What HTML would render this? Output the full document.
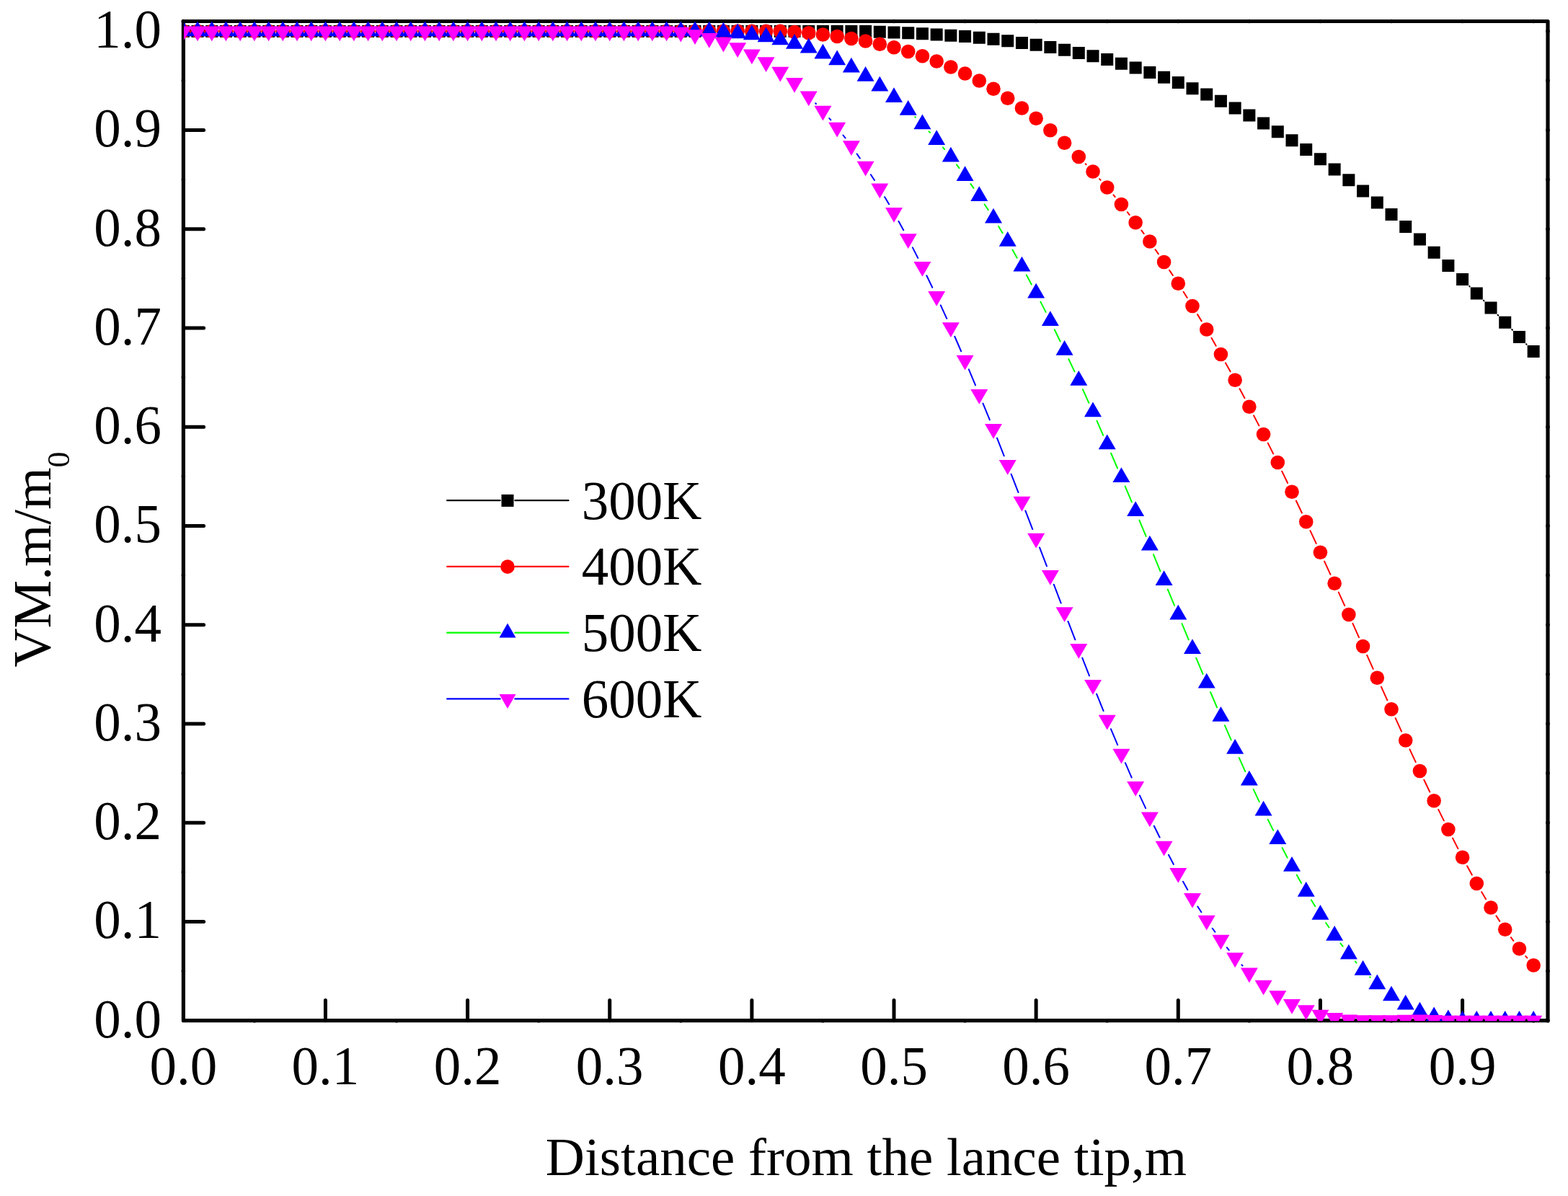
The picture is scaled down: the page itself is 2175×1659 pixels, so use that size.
<!DOCTYPE html>
<html lang="en"><head><meta charset="utf-8"><title>VM.m/m0 vs distance from the lance tip</title>
<style>html,body{margin:0;padding:0;background:#fff;overflow:hidden;width:2175px;height:1659px}svg{display:block}text{font-family:"Liberation Serif", "Times New Roman", serif;fill:#000}</style>
</head><body>
<svg width="2175" height="1659" viewBox="0 0 2175 1659">
<rect width="2175" height="1659" fill="#fff"/>
<rect x="254.40" y="29.50" width="1892.60" height="1386.20" fill="none" stroke="#000" stroke-width="5.2" stroke-linejoin="round"/>
<path d="M451.46 1415.70L451.46 1387.50M648.60 1415.70L648.60 1387.50M845.74 1415.70L845.74 1387.50M1042.88 1415.70L1042.88 1387.50M1240.02 1415.70L1240.02 1387.50M1437.16 1415.70L1437.16 1387.50M1634.30 1415.70L1634.30 1387.50M1831.44 1415.70L1831.44 1387.50M2028.58 1415.70L2028.58 1387.50M254.40 1278.47L282.60 1278.47M254.40 1141.22L282.60 1141.22M254.40 1003.97L282.60 1003.97M254.40 866.72L282.60 866.72M254.40 729.47L282.60 729.47M254.40 592.22L282.60 592.22M254.40 454.97L282.60 454.97M254.40 317.72L282.60 317.72M254.40 180.47L282.60 180.47M254.40 43.22L282.60 43.22" stroke="#000" stroke-width="5" stroke-linecap="round" fill="none"/>
<path d="M254.32 29.50h0M352.89 29.50h0M352.89 1415.70h0M451.46 29.50h0M550.03 29.50h0M550.03 1415.70h0M648.60 29.50h0M747.17 29.50h0M747.17 1415.70h0M845.74 29.50h0M944.31 29.50h0M944.31 1415.70h0M1042.88 29.50h0M1141.45 29.50h0M1141.45 1415.70h0M1240.02 29.50h0M1338.59 29.50h0M1338.59 1415.70h0M1437.16 29.50h0M1535.73 29.50h0M1535.73 1415.70h0M1634.30 29.50h0M1732.87 29.50h0M1732.87 1415.70h0M1831.44 29.50h0M1930.01 29.50h0M1930.01 1415.70h0M2028.58 29.50h0M2127.15 29.50h0M2127.15 1415.70h0M2147.00 1415.72h0M2147.00 1347.10h0M254.40 1347.10h0M2147.00 1278.47h0M2147.00 1209.85h0M254.40 1209.85h0M2147.00 1141.22h0M2147.00 1072.60h0M254.40 1072.60h0M2147.00 1003.97h0M2147.00 935.35h0M254.40 935.35h0M2147.00 866.72h0M2147.00 798.10h0M254.40 798.10h0M2147.00 729.47h0M2147.00 660.84h0M254.40 660.84h0M2147.00 592.22h0M2147.00 523.60h0M254.40 523.60h0M2147.00 454.97h0M2147.00 386.35h0M254.40 386.35h0M2147.00 317.72h0M2147.00 249.09h0M254.40 249.09h0M2147.00 180.47h0M2147.00 111.85h0M254.40 111.85h0M2147.00 43.22h0" stroke="#000" stroke-width="5.6" stroke-linecap="round" fill="none"/>
<defs><clipPath id="clip"><rect x="255" y="30" width="1892" height="1386.2"/></clipPath></defs>
<g clip-path="url(#clip)">
<g>
<path d="M2038.25 397.07L2038.62 397.43M2057.84 416.68L2058.46 417.32M2077.50 436.75L2078.23 437.50M2097.21 456.99L2097.95 457.76M2116.99 477.19L2117.60 477.81" stroke="#000" stroke-width="2.00" fill="none" stroke-linecap="round"/>
<rect x="245.82" y="34.90" width="17.00" height="17.00" fill="#000"/><rect x="265.53" y="34.90" width="17.00" height="17.00" fill="#000"/><rect x="285.25" y="34.90" width="17.00" height="17.00" fill="#000"/><rect x="304.96" y="34.90" width="17.00" height="17.00" fill="#000"/><rect x="324.68" y="34.90" width="17.00" height="17.00" fill="#000"/><rect x="344.39" y="34.90" width="17.00" height="17.00" fill="#000"/><rect x="364.10" y="34.90" width="17.00" height="17.00" fill="#000"/><rect x="383.82" y="34.90" width="17.00" height="17.00" fill="#000"/><rect x="403.53" y="34.90" width="17.00" height="17.00" fill="#000"/><rect x="423.25" y="34.90" width="17.00" height="17.00" fill="#000"/><rect x="442.96" y="34.90" width="17.00" height="17.00" fill="#000"/><rect x="462.67" y="34.90" width="17.00" height="17.00" fill="#000"/><rect x="482.39" y="34.90" width="17.00" height="17.00" fill="#000"/><rect x="502.10" y="34.90" width="17.00" height="17.00" fill="#000"/><rect x="521.82" y="34.90" width="17.00" height="17.00" fill="#000"/><rect x="541.53" y="34.90" width="17.00" height="17.00" fill="#000"/><rect x="561.24" y="34.90" width="17.00" height="17.00" fill="#000"/><rect x="580.96" y="34.90" width="17.00" height="17.00" fill="#000"/><rect x="600.67" y="34.90" width="17.00" height="17.00" fill="#000"/><rect x="620.39" y="34.90" width="17.00" height="17.00" fill="#000"/><rect x="640.10" y="34.90" width="17.00" height="17.00" fill="#000"/><rect x="659.81" y="34.90" width="17.00" height="17.00" fill="#000"/><rect x="679.53" y="34.90" width="17.00" height="17.00" fill="#000"/><rect x="699.24" y="34.90" width="17.00" height="17.00" fill="#000"/><rect x="718.96" y="34.90" width="17.00" height="17.00" fill="#000"/><rect x="738.67" y="34.90" width="17.00" height="17.00" fill="#000"/><rect x="758.38" y="34.90" width="17.00" height="17.00" fill="#000"/><rect x="778.10" y="34.90" width="17.00" height="17.00" fill="#000"/><rect x="797.81" y="34.90" width="17.00" height="17.00" fill="#000"/><rect x="817.53" y="34.90" width="17.00" height="17.00" fill="#000"/><rect x="837.24" y="34.90" width="17.00" height="17.00" fill="#000"/><rect x="856.95" y="34.90" width="17.00" height="17.00" fill="#000"/><rect x="876.67" y="34.90" width="17.00" height="17.00" fill="#000"/><rect x="896.38" y="34.90" width="17.00" height="17.00" fill="#000"/><rect x="916.10" y="34.90" width="17.00" height="17.00" fill="#000"/><rect x="935.81" y="34.90" width="17.00" height="17.00" fill="#000"/><rect x="955.52" y="34.90" width="17.00" height="17.00" fill="#000"/><rect x="975.24" y="34.90" width="17.00" height="17.00" fill="#000"/><rect x="994.95" y="34.90" width="17.00" height="17.00" fill="#000"/><rect x="1014.67" y="34.90" width="17.00" height="17.00" fill="#000"/><rect x="1034.38" y="34.90" width="17.00" height="17.00" fill="#000"/><rect x="1054.09" y="34.90" width="17.00" height="17.00" fill="#000"/><rect x="1073.81" y="34.90" width="17.00" height="17.00" fill="#000"/><rect x="1093.52" y="34.90" width="17.00" height="17.00" fill="#000"/><rect x="1113.24" y="34.90" width="17.00" height="17.00" fill="#000"/><rect x="1132.95" y="34.90" width="17.00" height="17.00" fill="#000"/><rect x="1152.66" y="34.90" width="17.00" height="17.00" fill="#000"/><rect x="1172.38" y="34.90" width="17.00" height="17.00" fill="#000"/><rect x="1192.09" y="34.90" width="17.00" height="17.00" fill="#000"/><rect x="1211.81" y="35.75" width="17.00" height="17.00" fill="#000"/><rect x="1231.52" y="36.50" width="17.00" height="17.00" fill="#000"/><rect x="1251.23" y="37.25" width="17.00" height="17.00" fill="#000"/><rect x="1270.95" y="38.25" width="17.00" height="17.00" fill="#000"/><rect x="1290.66" y="39.50" width="17.00" height="17.00" fill="#000"/><rect x="1310.38" y="40.75" width="17.00" height="17.00" fill="#000"/><rect x="1330.09" y="42.00" width="17.00" height="17.00" fill="#000"/><rect x="1349.80" y="43.75" width="17.00" height="17.00" fill="#000"/><rect x="1369.52" y="45.75" width="17.00" height="17.00" fill="#000"/><rect x="1389.23" y="48.25" width="17.00" height="17.00" fill="#000"/><rect x="1408.95" y="51.00" width="17.00" height="17.00" fill="#000"/><rect x="1428.66" y="53.75" width="17.00" height="17.00" fill="#000"/><rect x="1448.37" y="57.00" width="17.00" height="17.00" fill="#000"/><rect x="1468.09" y="60.75" width="17.00" height="17.00" fill="#000"/><rect x="1487.80" y="65.00" width="17.00" height="17.00" fill="#000"/><rect x="1507.52" y="69.25" width="17.00" height="17.00" fill="#000"/><rect x="1527.23" y="74.00" width="17.00" height="17.00" fill="#000"/><rect x="1546.94" y="79.75" width="17.00" height="17.00" fill="#000"/><rect x="1566.66" y="85.50" width="17.00" height="17.00" fill="#000"/><rect x="1586.37" y="92.00" width="17.00" height="17.00" fill="#000"/><rect x="1606.09" y="98.75" width="17.00" height="17.00" fill="#000"/><rect x="1625.80" y="106.00" width="17.00" height="17.00" fill="#000"/><rect x="1645.51" y="114.25" width="17.00" height="17.00" fill="#000"/><rect x="1665.23" y="122.50" width="17.00" height="17.00" fill="#000"/><rect x="1684.94" y="131.75" width="17.00" height="17.00" fill="#000"/><rect x="1704.66" y="141.50" width="17.00" height="17.00" fill="#000"/><rect x="1724.37" y="151.50" width="17.00" height="17.00" fill="#000"/><rect x="1744.08" y="162.50" width="17.00" height="17.00" fill="#000"/><rect x="1763.80" y="174.25" width="17.00" height="17.00" fill="#000"/><rect x="1783.51" y="186.25" width="17.00" height="17.00" fill="#000"/><rect x="1803.23" y="199.00" width="17.00" height="17.00" fill="#000"/><rect x="1822.94" y="212.25" width="17.00" height="17.00" fill="#000"/><rect x="1842.65" y="226.50" width="17.00" height="17.00" fill="#000"/><rect x="1862.37" y="241.25" width="17.00" height="17.00" fill="#000"/><rect x="1882.08" y="256.50" width="17.00" height="17.00" fill="#000"/><rect x="1901.80" y="272.50" width="17.00" height="17.00" fill="#000"/><rect x="1921.51" y="289.00" width="17.00" height="17.00" fill="#000"/><rect x="1941.22" y="306.00" width="17.00" height="17.00" fill="#000"/><rect x="1960.94" y="323.50" width="17.00" height="17.00" fill="#000"/><rect x="1980.65" y="341.75" width="17.00" height="17.00" fill="#000"/><rect x="2000.37" y="360.00" width="17.00" height="17.00" fill="#000"/><rect x="2020.08" y="379.00" width="17.00" height="17.00" fill="#000"/><rect x="2039.79" y="398.50" width="17.00" height="17.00" fill="#000"/><rect x="2059.51" y="418.50" width="17.00" height="17.00" fill="#000"/><rect x="2079.22" y="438.75" width="17.00" height="17.00" fill="#000"/><rect x="2098.94" y="459.00" width="17.00" height="17.00" fill="#000"/><rect x="2118.65" y="479.00" width="17.00" height="17.00" fill="#000"/>
</g>
<g>
<path d="M1505.73 227.30L1506.59 228.20M1525.10 248.13L1526.65 249.87M1544.47 270.42L1546.70 273.08M1563.81 294.22L1566.79 298.03M1583.33 319.63L1586.70 324.12M1602.61 346.18L1606.85 352.32M1622.10 374.84L1626.79 381.91M1641.56 404.75L1646.75 413.00M1661.06 436.13L1666.68 445.37M1680.48 468.81L1686.69 479.69M1700.01 503.41L1706.59 515.34M1719.55 539.25L1726.48 552.25M1739.10 576.34L1746.35 590.41M1758.72 614.64L1766.16 629.36M1778.22 653.74L1786.09 670.01M1797.85 694.53L1805.89 711.47M1817.45 736.09L1825.72 753.91M1837.11 778.61L1845.48 796.89M1856.79 821.62L1865.23 840.13M1876.43 864.91L1885.02 884.09M1896.17 908.90L1904.71 927.85M1915.91 952.64L1924.40 971.36M1935.65 996.13L1944.08 1014.62M1955.44 1039.34L1963.72 1057.16M1975.30 1081.77L1983.29 1098.48M1995.19 1122.93L2002.83 1138.32M2015.04 1162.62L2022.41 1177.13M2035.08 1201.20L2041.79 1213.55M2055.19 1237.22L2061.11 1247.28M2075.43 1270.39L2080.30 1277.86M2095.79 1300.20L2099.37 1305.05M2116.29 1326.33L2118.30 1328.67" stroke="#f00" stroke-width="2.00" fill="none" stroke-linecap="round"/>
<circle cx="254.32" cy="43.40" r="9.80" fill="#f00"/><circle cx="274.03" cy="43.40" r="9.80" fill="#f00"/><circle cx="293.75" cy="43.40" r="9.80" fill="#f00"/><circle cx="313.46" cy="43.40" r="9.80" fill="#f00"/><circle cx="333.18" cy="43.40" r="9.80" fill="#f00"/><circle cx="352.89" cy="43.40" r="9.80" fill="#f00"/><circle cx="372.60" cy="43.40" r="9.80" fill="#f00"/><circle cx="392.32" cy="43.40" r="9.80" fill="#f00"/><circle cx="412.03" cy="43.40" r="9.80" fill="#f00"/><circle cx="431.75" cy="43.40" r="9.80" fill="#f00"/><circle cx="451.46" cy="43.40" r="9.80" fill="#f00"/><circle cx="471.17" cy="43.40" r="9.80" fill="#f00"/><circle cx="490.89" cy="43.40" r="9.80" fill="#f00"/><circle cx="510.60" cy="43.40" r="9.80" fill="#f00"/><circle cx="530.32" cy="43.40" r="9.80" fill="#f00"/><circle cx="550.03" cy="43.40" r="9.80" fill="#f00"/><circle cx="569.74" cy="43.40" r="9.80" fill="#f00"/><circle cx="589.46" cy="43.40" r="9.80" fill="#f00"/><circle cx="609.17" cy="43.40" r="9.80" fill="#f00"/><circle cx="628.89" cy="43.40" r="9.80" fill="#f00"/><circle cx="648.60" cy="43.40" r="9.80" fill="#f00"/><circle cx="668.31" cy="43.40" r="9.80" fill="#f00"/><circle cx="688.03" cy="43.40" r="9.80" fill="#f00"/><circle cx="707.74" cy="43.40" r="9.80" fill="#f00"/><circle cx="727.46" cy="43.40" r="9.80" fill="#f00"/><circle cx="747.17" cy="43.40" r="9.80" fill="#f00"/><circle cx="766.88" cy="43.40" r="9.80" fill="#f00"/><circle cx="786.60" cy="43.40" r="9.80" fill="#f00"/><circle cx="806.31" cy="43.40" r="9.80" fill="#f00"/><circle cx="826.03" cy="43.40" r="9.80" fill="#f00"/><circle cx="845.74" cy="43.40" r="9.80" fill="#f00"/><circle cx="865.45" cy="43.40" r="9.80" fill="#f00"/><circle cx="885.17" cy="43.40" r="9.80" fill="#f00"/><circle cx="904.88" cy="43.40" r="9.80" fill="#f00"/><circle cx="924.60" cy="43.40" r="9.80" fill="#f00"/><circle cx="944.31" cy="43.40" r="9.80" fill="#f00"/><circle cx="964.02" cy="43.40" r="9.80" fill="#f00"/><circle cx="983.74" cy="43.40" r="9.80" fill="#f00"/><circle cx="1003.45" cy="43.40" r="9.80" fill="#f00"/><circle cx="1023.17" cy="43.40" r="9.80" fill="#f00"/><circle cx="1042.88" cy="43.40" r="9.80" fill="#f00"/><circle cx="1062.59" cy="43.40" r="9.80" fill="#f00"/><circle cx="1082.31" cy="43.40" r="9.80" fill="#f00"/><circle cx="1102.02" cy="44.50" r="9.80" fill="#f00"/><circle cx="1121.74" cy="45.75" r="9.80" fill="#f00"/><circle cx="1141.45" cy="48.00" r="9.80" fill="#f00"/><circle cx="1161.16" cy="50.50" r="9.80" fill="#f00"/><circle cx="1180.88" cy="53.50" r="9.80" fill="#f00"/><circle cx="1200.59" cy="57.00" r="9.80" fill="#f00"/><circle cx="1220.31" cy="61.25" r="9.80" fill="#f00"/><circle cx="1240.02" cy="65.75" r="9.80" fill="#f00"/><circle cx="1259.73" cy="71.50" r="9.80" fill="#f00"/><circle cx="1279.45" cy="77.75" r="9.80" fill="#f00"/><circle cx="1299.16" cy="85.00" r="9.80" fill="#f00"/><circle cx="1318.88" cy="93.00" r="9.80" fill="#f00"/><circle cx="1338.59" cy="102.00" r="9.80" fill="#f00"/><circle cx="1358.30" cy="112.00" r="9.80" fill="#f00"/><circle cx="1378.02" cy="123.25" r="9.80" fill="#f00"/><circle cx="1397.73" cy="136.25" r="9.80" fill="#f00"/><circle cx="1417.45" cy="150.00" r="9.80" fill="#f00"/><circle cx="1437.16" cy="164.25" r="9.80" fill="#f00"/><circle cx="1456.87" cy="180.75" r="9.80" fill="#f00"/><circle cx="1476.59" cy="198.25" r="9.80" fill="#f00"/><circle cx="1496.30" cy="217.50" r="9.80" fill="#f00"/><circle cx="1516.02" cy="238.00" r="9.80" fill="#f00"/><circle cx="1535.73" cy="260.00" r="9.80" fill="#f00"/><circle cx="1555.44" cy="283.50" r="9.80" fill="#f00"/><circle cx="1575.16" cy="308.75" r="9.80" fill="#f00"/><circle cx="1594.87" cy="335.00" r="9.80" fill="#f00"/><circle cx="1614.59" cy="363.50" r="9.80" fill="#f00"/><circle cx="1634.30" cy="393.25" r="9.80" fill="#f00"/><circle cx="1654.01" cy="424.50" r="9.80" fill="#f00"/><circle cx="1673.73" cy="457.00" r="9.80" fill="#f00"/><circle cx="1693.44" cy="491.50" r="9.80" fill="#f00"/><circle cx="1713.16" cy="527.25" r="9.80" fill="#f00"/><circle cx="1732.87" cy="564.25" r="9.80" fill="#f00"/><circle cx="1752.58" cy="602.50" r="9.80" fill="#f00"/><circle cx="1772.30" cy="641.50" r="9.80" fill="#f00"/><circle cx="1792.01" cy="682.25" r="9.80" fill="#f00"/><circle cx="1811.73" cy="723.75" r="9.80" fill="#f00"/><circle cx="1831.44" cy="766.25" r="9.80" fill="#f00"/><circle cx="1851.15" cy="809.25" r="9.80" fill="#f00"/><circle cx="1870.87" cy="852.50" r="9.80" fill="#f00"/><circle cx="1890.58" cy="896.50" r="9.80" fill="#f00"/><circle cx="1910.30" cy="940.25" r="9.80" fill="#f00"/><circle cx="1930.01" cy="983.75" r="9.80" fill="#f00"/><circle cx="1949.72" cy="1027.00" r="9.80" fill="#f00"/><circle cx="1969.44" cy="1069.50" r="9.80" fill="#f00"/><circle cx="1989.15" cy="1110.75" r="9.80" fill="#f00"/><circle cx="2008.87" cy="1150.50" r="9.80" fill="#f00"/><circle cx="2028.58" cy="1189.25" r="9.80" fill="#f00"/><circle cx="2048.29" cy="1225.50" r="9.80" fill="#f00"/><circle cx="2068.01" cy="1259.00" r="9.80" fill="#f00"/><circle cx="2087.72" cy="1289.25" r="9.80" fill="#f00"/><circle cx="2107.44" cy="1316.00" r="9.80" fill="#f00"/><circle cx="2127.15" cy="1339.00" r="9.80" fill="#f00"/>
</g>
<g>
<path d="M1269.40 162.31L1269.78 162.69M1288.58 182.33L1290.03 183.92M1307.90 204.42L1310.14 207.08M1327.00 228.41L1330.47 233.09M1346.42 255.12L1350.47 260.88M1365.68 283.42L1370.64 291.08M1385.11 314.10L1390.64 323.15M1404.44 346.58L1410.74 357.67M1423.84 381.50L1430.77 394.50M1443.36 418.61L1450.67 432.89M1462.79 457.24L1470.67 473.51M1482.37 498.06L1490.52 515.44M1501.92 540.14L1510.40 558.86M1521.48 583.71L1530.27 603.79M1541.11 628.74L1550.06 649.51M1560.70 674.54L1569.90 696.46M1580.37 721.56L1589.66 743.94M1599.99 769.10L1609.47 792.40M1619.80 817.56L1629.09 839.94M1639.51 865.06L1648.80 887.44M1659.22 912.56L1668.52 934.94M1679.06 960.01L1688.11 981.24M1698.90 1006.21L1707.70 1026.29M1718.75 1051.15L1727.28 1070.10M1738.65 1094.81L1746.80 1112.19M1758.65 1136.67L1766.23 1151.83M1778.59 1176.06L1785.72 1189.69M1798.69 1213.60L1805.05 1224.90M1818.86 1248.33L1824.31 1257.17M1839.08 1280.00L1843.51 1286.50M1859.42 1308.55L1862.60 1312.70M1879.89 1333.68L1881.56 1335.57M1900.25 1355.31L1900.63 1355.69" stroke="#0f0" stroke-width="2.00" fill="none" stroke-linecap="round"/>
<path d="M254.32 29.53L266.32 50.33L242.32 50.33Z" fill="#00f"/><path d="M274.03 29.53L286.03 50.33L262.03 50.33Z" fill="#00f"/><path d="M293.75 29.53L305.75 50.33L281.75 50.33Z" fill="#00f"/><path d="M313.46 29.53L325.46 50.33L301.46 50.33Z" fill="#00f"/><path d="M333.18 29.53L345.18 50.33L321.18 50.33Z" fill="#00f"/><path d="M352.89 29.53L364.89 50.33L340.89 50.33Z" fill="#00f"/><path d="M372.60 29.53L384.60 50.33L360.60 50.33Z" fill="#00f"/><path d="M392.32 29.53L404.32 50.33L380.32 50.33Z" fill="#00f"/><path d="M412.03 29.53L424.03 50.33L400.03 50.33Z" fill="#00f"/><path d="M431.75 29.53L443.75 50.33L419.75 50.33Z" fill="#00f"/><path d="M451.46 29.53L463.46 50.33L439.46 50.33Z" fill="#00f"/><path d="M471.17 29.53L483.17 50.33L459.17 50.33Z" fill="#00f"/><path d="M490.89 29.53L502.89 50.33L478.89 50.33Z" fill="#00f"/><path d="M510.60 29.53L522.60 50.33L498.60 50.33Z" fill="#00f"/><path d="M530.32 29.53L542.32 50.33L518.32 50.33Z" fill="#00f"/><path d="M550.03 29.53L562.03 50.33L538.03 50.33Z" fill="#00f"/><path d="M569.74 29.53L581.74 50.33L557.74 50.33Z" fill="#00f"/><path d="M589.46 29.53L601.46 50.33L577.46 50.33Z" fill="#00f"/><path d="M609.17 29.53L621.17 50.33L597.17 50.33Z" fill="#00f"/><path d="M628.89 29.53L640.89 50.33L616.89 50.33Z" fill="#00f"/><path d="M648.60 29.53L660.60 50.33L636.60 50.33Z" fill="#00f"/><path d="M668.31 29.53L680.31 50.33L656.31 50.33Z" fill="#00f"/><path d="M688.03 29.53L700.03 50.33L676.03 50.33Z" fill="#00f"/><path d="M707.74 29.53L719.74 50.33L695.74 50.33Z" fill="#00f"/><path d="M727.46 29.53L739.46 50.33L715.46 50.33Z" fill="#00f"/><path d="M747.17 29.53L759.17 50.33L735.17 50.33Z" fill="#00f"/><path d="M766.88 29.53L778.88 50.33L754.88 50.33Z" fill="#00f"/><path d="M786.60 29.53L798.60 50.33L774.60 50.33Z" fill="#00f"/><path d="M806.31 29.53L818.31 50.33L794.31 50.33Z" fill="#00f"/><path d="M826.03 29.53L838.03 50.33L814.03 50.33Z" fill="#00f"/><path d="M845.74 29.53L857.74 50.33L833.74 50.33Z" fill="#00f"/><path d="M865.45 29.53L877.45 50.33L853.45 50.33Z" fill="#00f"/><path d="M885.17 29.53L897.17 50.33L873.17 50.33Z" fill="#00f"/><path d="M904.88 29.53L916.88 50.33L892.88 50.33Z" fill="#00f"/><path d="M924.60 29.53L936.60 50.33L912.60 50.33Z" fill="#00f"/><path d="M944.31 29.53L956.31 50.33L932.31 50.33Z" fill="#00f"/><path d="M964.02 29.53L976.02 50.33L952.02 50.33Z" fill="#00f"/><path d="M983.74 29.73L995.74 50.53L971.74 50.53Z" fill="#00f"/><path d="M1003.45 30.63L1015.45 51.43L991.45 51.43Z" fill="#00f"/><path d="M1023.17 32.43L1035.17 53.23L1011.17 53.23Z" fill="#00f"/><path d="M1042.88 34.38L1054.88 55.18L1030.88 55.18Z" fill="#00f"/><path d="M1062.59 37.38L1074.59 58.18L1050.59 58.18Z" fill="#00f"/><path d="M1082.31 41.38L1094.31 62.18L1070.31 62.18Z" fill="#00f"/><path d="M1102.02 46.88L1114.02 67.68L1090.02 67.68Z" fill="#00f"/><path d="M1121.74 52.63L1133.74 73.43L1109.74 73.43Z" fill="#00f"/><path d="M1141.45 60.63L1153.45 81.43L1129.45 81.43Z" fill="#00f"/><path d="M1161.16 69.38L1173.16 90.18L1149.16 90.18Z" fill="#00f"/><path d="M1180.88 79.63L1192.88 100.43L1168.88 100.43Z" fill="#00f"/><path d="M1200.59 91.88L1212.59 112.68L1188.59 112.68Z" fill="#00f"/><path d="M1220.31 105.63L1232.31 126.43L1208.31 126.43Z" fill="#00f"/><path d="M1240.02 121.13L1252.02 141.93L1228.02 141.93Z" fill="#00f"/><path d="M1259.73 138.88L1271.73 159.68L1247.73 159.68Z" fill="#00f"/><path d="M1279.45 158.38L1291.45 179.18L1267.45 179.18Z" fill="#00f"/><path d="M1299.16 180.13L1311.16 200.93L1287.16 200.93Z" fill="#00f"/><path d="M1318.88 203.63L1330.88 224.43L1306.88 224.43Z" fill="#00f"/><path d="M1338.59 230.13L1350.59 250.93L1326.59 250.93Z" fill="#00f"/><path d="M1358.30 258.13L1370.30 278.93L1346.30 278.93Z" fill="#00f"/><path d="M1378.02 288.63L1390.02 309.43L1366.02 309.43Z" fill="#00f"/><path d="M1397.73 320.88L1409.73 341.68L1385.73 341.68Z" fill="#00f"/><path d="M1417.45 355.63L1429.45 376.43L1405.45 376.43Z" fill="#00f"/><path d="M1437.16 392.63L1449.16 413.43L1425.16 413.43Z" fill="#00f"/><path d="M1456.87 431.13L1468.87 451.93L1444.87 451.93Z" fill="#00f"/><path d="M1476.59 471.88L1488.59 492.68L1464.59 492.68Z" fill="#00f"/><path d="M1496.30 513.88L1508.30 534.68L1484.30 534.68Z" fill="#00f"/><path d="M1516.02 557.38L1528.02 578.18L1504.02 578.18Z" fill="#00f"/><path d="M1535.73 602.38L1547.73 623.18L1523.73 623.18Z" fill="#00f"/><path d="M1555.44 648.13L1567.44 668.93L1543.44 668.93Z" fill="#00f"/><path d="M1575.16 695.13L1587.16 715.93L1563.16 715.93Z" fill="#00f"/><path d="M1594.87 742.63L1606.87 763.43L1582.87 763.43Z" fill="#00f"/><path d="M1614.59 791.13L1626.59 811.93L1602.59 811.93Z" fill="#00f"/><path d="M1634.30 838.63L1646.30 859.43L1622.30 859.43Z" fill="#00f"/><path d="M1654.01 886.13L1666.01 906.93L1642.01 906.93Z" fill="#00f"/><path d="M1673.73 933.63L1685.73 954.43L1661.73 954.43Z" fill="#00f"/><path d="M1693.44 979.88L1705.44 1000.68L1681.44 1000.68Z" fill="#00f"/><path d="M1713.16 1024.88L1725.16 1045.68L1701.16 1045.68Z" fill="#00f"/><path d="M1732.87 1068.63L1744.87 1089.43L1720.87 1089.43Z" fill="#00f"/><path d="M1752.58 1110.63L1764.58 1131.43L1740.58 1131.43Z" fill="#00f"/><path d="M1772.30 1150.13L1784.30 1170.93L1760.30 1170.93Z" fill="#00f"/><path d="M1792.01 1187.88L1804.01 1208.68L1780.01 1208.68Z" fill="#00f"/><path d="M1811.73 1222.88L1823.73 1243.68L1799.73 1243.68Z" fill="#00f"/><path d="M1831.44 1254.88L1843.44 1275.68L1819.44 1275.68Z" fill="#00f"/><path d="M1851.15 1283.88L1863.15 1304.68L1839.15 1304.68Z" fill="#00f"/><path d="M1870.87 1309.63L1882.87 1330.43L1858.87 1330.43Z" fill="#00f"/><path d="M1890.58 1331.88L1902.58 1352.68L1878.58 1352.68Z" fill="#00f"/><path d="M1910.30 1351.38L1922.30 1372.18L1898.30 1372.18Z" fill="#00f"/><path d="M1930.01 1367.38L1942.01 1388.18L1918.01 1388.18Z" fill="#00f"/><path d="M1949.72 1379.63L1961.72 1400.43L1937.72 1400.43Z" fill="#00f"/><path d="M1969.44 1389.63L1981.44 1410.43L1957.44 1410.43Z" fill="#00f"/><path d="M1989.15 1396.38L2001.15 1417.18L1977.15 1417.18Z" fill="#00f"/><path d="M2008.87 1400.38L2020.87 1421.18L1996.87 1421.18Z" fill="#00f"/><path d="M2028.58 1401.93L2040.58 1422.73L2016.58 1422.73Z" fill="#00f"/><path d="M2048.29 1401.93L2060.29 1422.73L2036.29 1422.73Z" fill="#00f"/><path d="M2068.01 1401.93L2080.01 1422.73L2056.01 1422.73Z" fill="#00f"/><path d="M2087.72 1401.93L2099.72 1422.73L2075.72 1422.73Z" fill="#00f"/><path d="M2107.44 1401.93L2119.44 1422.73L2095.44 1422.73Z" fill="#00f"/><path d="M2127.15 1401.93L2139.15 1422.73L2115.15 1422.73Z" fill="#00f"/>
</g>
<g>
<path d="M1131.23 143.25L1131.96 144.00M1150.30 164.08L1152.31 166.42M1169.48 187.51L1172.56 191.49M1188.62 213.44L1192.85 219.56M1207.93 242.20L1212.97 250.05M1227.21 273.22L1233.12 283.28M1246.52 306.95L1253.23 319.30M1265.90 343.37L1273.28 357.88M1285.34 382.26L1293.27 398.74M1304.80 423.37L1313.24 441.88M1324.29 466.73L1333.18 487.27M1343.83 512.30L1353.06 534.45M1363.47 559.58L1372.85 582.42M1383.01 607.65L1392.74 632.35M1402.66 657.68L1412.52 683.07M1422.35 708.44L1432.26 734.06M1442.04 759.44L1451.99 785.31M1461.75 810.69L1471.71 836.56M1481.51 861.93L1491.38 887.32M1501.29 912.65L1511.03 937.35M1521.12 962.61L1530.63 986.14M1540.99 1011.29L1550.18 1033.21M1560.87 1058.22L1569.73 1078.53M1580.88 1103.34L1589.15 1121.16M1600.85 1145.71L1608.61 1161.54M1620.95 1185.77L1627.94 1198.98M1640.97 1222.85L1647.34 1234.15M1661.35 1257.45L1666.39 1265.30M1681.75 1287.73L1685.42 1292.77M1701.91 1314.39L1704.69 1317.86M1722.47 1338.42L1723.56 1339.58" stroke="#00f" stroke-width="2.00" fill="none" stroke-linecap="round"/>
<path d="M254.32 57.27L266.32 36.47L242.32 36.47Z" fill="#f0f"/><path d="M274.03 57.27L286.03 36.47L262.03 36.47Z" fill="#f0f"/><path d="M293.75 57.27L305.75 36.47L281.75 36.47Z" fill="#f0f"/><path d="M313.46 57.27L325.46 36.47L301.46 36.47Z" fill="#f0f"/><path d="M333.18 57.27L345.18 36.47L321.18 36.47Z" fill="#f0f"/><path d="M352.89 57.27L364.89 36.47L340.89 36.47Z" fill="#f0f"/><path d="M372.60 57.27L384.60 36.47L360.60 36.47Z" fill="#f0f"/><path d="M392.32 57.27L404.32 36.47L380.32 36.47Z" fill="#f0f"/><path d="M412.03 57.27L424.03 36.47L400.03 36.47Z" fill="#f0f"/><path d="M431.75 57.27L443.75 36.47L419.75 36.47Z" fill="#f0f"/><path d="M451.46 57.27L463.46 36.47L439.46 36.47Z" fill="#f0f"/><path d="M471.17 57.27L483.17 36.47L459.17 36.47Z" fill="#f0f"/><path d="M490.89 57.27L502.89 36.47L478.89 36.47Z" fill="#f0f"/><path d="M510.60 57.27L522.60 36.47L498.60 36.47Z" fill="#f0f"/><path d="M530.32 57.27L542.32 36.47L518.32 36.47Z" fill="#f0f"/><path d="M550.03 57.27L562.03 36.47L538.03 36.47Z" fill="#f0f"/><path d="M569.74 57.27L581.74 36.47L557.74 36.47Z" fill="#f0f"/><path d="M589.46 57.27L601.46 36.47L577.46 36.47Z" fill="#f0f"/><path d="M609.17 57.27L621.17 36.47L597.17 36.47Z" fill="#f0f"/><path d="M628.89 57.27L640.89 36.47L616.89 36.47Z" fill="#f0f"/><path d="M648.60 57.27L660.60 36.47L636.60 36.47Z" fill="#f0f"/><path d="M668.31 57.27L680.31 36.47L656.31 36.47Z" fill="#f0f"/><path d="M688.03 57.27L700.03 36.47L676.03 36.47Z" fill="#f0f"/><path d="M707.74 57.27L719.74 36.47L695.74 36.47Z" fill="#f0f"/><path d="M727.46 57.27L739.46 36.47L715.46 36.47Z" fill="#f0f"/><path d="M747.17 57.27L759.17 36.47L735.17 36.47Z" fill="#f0f"/><path d="M766.88 57.27L778.88 36.47L754.88 36.47Z" fill="#f0f"/><path d="M786.60 57.27L798.60 36.47L774.60 36.47Z" fill="#f0f"/><path d="M806.31 57.27L818.31 36.47L794.31 36.47Z" fill="#f0f"/><path d="M826.03 57.27L838.03 36.47L814.03 36.47Z" fill="#f0f"/><path d="M845.74 57.27L857.74 36.47L833.74 36.47Z" fill="#f0f"/><path d="M865.45 57.27L877.45 36.47L853.45 36.47Z" fill="#f0f"/><path d="M885.17 57.27L897.17 36.47L873.17 36.47Z" fill="#f0f"/><path d="M904.88 57.27L916.88 36.47L892.88 36.47Z" fill="#f0f"/><path d="M924.60 57.27L936.60 36.47L912.60 36.47Z" fill="#f0f"/><path d="M944.31 58.62L956.31 37.82L932.31 37.82Z" fill="#f0f"/><path d="M964.02 62.12L976.02 41.32L952.02 41.32Z" fill="#f0f"/><path d="M983.74 66.87L995.74 46.07L971.74 46.07Z" fill="#f0f"/><path d="M1003.45 72.62L1015.45 51.82L991.45 51.82Z" fill="#f0f"/><path d="M1023.17 80.12L1035.17 59.32L1011.17 59.32Z" fill="#f0f"/><path d="M1042.88 89.37L1054.88 68.57L1030.88 68.57Z" fill="#f0f"/><path d="M1062.59 100.12L1074.59 79.32L1050.59 79.32Z" fill="#f0f"/><path d="M1082.31 113.62L1094.31 92.82L1070.31 92.82Z" fill="#f0f"/><path d="M1102.02 128.87L1114.02 108.07L1090.02 108.07Z" fill="#f0f"/><path d="M1121.74 147.37L1133.74 126.57L1109.74 126.57Z" fill="#f0f"/><path d="M1141.45 167.62L1153.45 146.82L1129.45 146.82Z" fill="#f0f"/><path d="M1161.16 190.62L1173.16 169.82L1149.16 169.82Z" fill="#f0f"/><path d="M1180.88 216.12L1192.88 195.32L1168.88 195.32Z" fill="#f0f"/><path d="M1200.59 244.62L1212.59 223.82L1188.59 223.82Z" fill="#f0f"/><path d="M1220.31 275.37L1232.31 254.57L1208.31 254.57Z" fill="#f0f"/><path d="M1240.02 308.87L1252.02 288.07L1228.02 288.07Z" fill="#f0f"/><path d="M1259.73 345.12L1271.73 324.32L1247.73 324.32Z" fill="#f0f"/><path d="M1279.45 383.87L1291.45 363.07L1267.45 363.07Z" fill="#f0f"/><path d="M1299.16 424.87L1311.16 404.07L1287.16 404.07Z" fill="#f0f"/><path d="M1318.88 468.12L1330.88 447.32L1306.88 447.32Z" fill="#f0f"/><path d="M1338.59 513.62L1350.59 492.82L1326.59 492.82Z" fill="#f0f"/><path d="M1358.30 560.87L1370.30 540.07L1346.30 540.07Z" fill="#f0f"/><path d="M1378.02 608.87L1390.02 588.07L1366.02 588.07Z" fill="#f0f"/><path d="M1397.73 658.87L1409.73 638.07L1385.73 638.07Z" fill="#f0f"/><path d="M1417.45 709.62L1429.45 688.82L1405.45 688.82Z" fill="#f0f"/><path d="M1437.16 760.62L1449.16 739.82L1425.16 739.82Z" fill="#f0f"/><path d="M1456.87 811.87L1468.87 791.07L1444.87 791.07Z" fill="#f0f"/><path d="M1476.59 863.12L1488.59 842.32L1464.59 842.32Z" fill="#f0f"/><path d="M1496.30 913.87L1508.30 893.07L1484.30 893.07Z" fill="#f0f"/><path d="M1516.02 963.87L1528.02 943.07L1504.02 943.07Z" fill="#f0f"/><path d="M1535.73 1012.62L1547.73 991.82L1523.73 991.82Z" fill="#f0f"/><path d="M1555.44 1059.62L1567.44 1038.82L1543.44 1038.82Z" fill="#f0f"/><path d="M1575.16 1104.87L1587.16 1084.07L1563.16 1084.07Z" fill="#f0f"/><path d="M1594.87 1147.37L1606.87 1126.57L1582.87 1126.57Z" fill="#f0f"/><path d="M1614.59 1187.62L1626.59 1166.82L1602.59 1166.82Z" fill="#f0f"/><path d="M1634.30 1224.87L1646.30 1204.07L1622.30 1204.07Z" fill="#f0f"/><path d="M1654.01 1259.87L1666.01 1239.07L1642.01 1239.07Z" fill="#f0f"/><path d="M1673.73 1290.62L1685.73 1269.82L1661.73 1269.82Z" fill="#f0f"/><path d="M1693.44 1317.62L1705.44 1296.82L1681.44 1296.82Z" fill="#f0f"/><path d="M1713.16 1342.37L1725.16 1321.57L1701.16 1321.57Z" fill="#f0f"/><path d="M1732.87 1363.37L1744.87 1342.57L1720.87 1342.57Z" fill="#f0f"/><path d="M1752.58 1380.62L1764.58 1359.82L1740.58 1359.82Z" fill="#f0f"/><path d="M1772.30 1395.12L1784.30 1374.32L1760.30 1374.32Z" fill="#f0f"/><path d="M1792.01 1406.87L1804.01 1386.07L1780.01 1386.07Z" fill="#f0f"/><path d="M1811.73 1415.12L1823.73 1394.32L1799.73 1394.32Z" fill="#f0f"/><path d="M1831.44 1421.62L1843.44 1400.82L1819.44 1400.82Z" fill="#f0f"/><path d="M1851.15 1425.82L1863.15 1405.02L1839.15 1405.02Z" fill="#f0f"/><path d="M1870.87 1428.32L1882.87 1407.52L1858.87 1407.52Z" fill="#f0f"/><path d="M1890.58 1429.02L1902.58 1408.22L1878.58 1408.22Z" fill="#f0f"/><path d="M1910.30 1429.12L1922.30 1408.32L1898.30 1408.32Z" fill="#f0f"/><path d="M1930.01 1429.17L1942.01 1408.37L1918.01 1408.37Z" fill="#f0f"/><path d="M1949.72 1428.67L1961.72 1407.87L1937.72 1407.87Z" fill="#f0f"/><path d="M1969.44 1428.27L1981.44 1407.47L1957.44 1407.47Z" fill="#f0f"/><path d="M1989.15 1428.87L2001.15 1408.07L1977.15 1408.07Z" fill="#f0f"/><path d="M2008.87 1429.67L2020.87 1408.87L1996.87 1408.87Z" fill="#f0f"/><path d="M2028.58 1429.67L2040.58 1408.87L2016.58 1408.87Z" fill="#f0f"/><path d="M2048.29 1429.67L2060.29 1408.87L2036.29 1408.87Z" fill="#f0f"/><path d="M2068.01 1429.67L2080.01 1408.87L2056.01 1408.87Z" fill="#f0f"/><path d="M2087.72 1429.67L2099.72 1408.87L2075.72 1408.87Z" fill="#f0f"/><path d="M2107.44 1429.67L2119.44 1408.87L2095.44 1408.87Z" fill="#f0f"/><path d="M2127.15 1429.67L2139.15 1408.87L2115.15 1408.87Z" fill="#f0f"/>
</g>
</g>
<g font-size="75">
<text transform="translate(254.32 1504.30) scale(1 1.02)" text-anchor="middle">0.0</text>
<text transform="translate(451.46 1504.30) scale(1 1.02)" text-anchor="middle">0.1</text>
<text transform="translate(648.60 1504.30) scale(1 1.02)" text-anchor="middle">0.2</text>
<text transform="translate(845.74 1504.30) scale(1 1.02)" text-anchor="middle">0.3</text>
<text transform="translate(1042.88 1504.30) scale(1 1.02)" text-anchor="middle">0.4</text>
<text transform="translate(1240.02 1504.30) scale(1 1.02)" text-anchor="middle">0.5</text>
<text transform="translate(1437.16 1504.30) scale(1 1.02)" text-anchor="middle">0.6</text>
<text transform="translate(1634.30 1504.30) scale(1 1.02)" text-anchor="middle">0.7</text>
<text transform="translate(1831.44 1504.30) scale(1 1.02)" text-anchor="middle">0.8</text>
<text transform="translate(2028.58 1504.30) scale(1 1.02)" text-anchor="middle">0.9</text>
<text transform="translate(224.10 1438.52) scale(1 1.02)" text-anchor="end">0.0</text>
<text transform="translate(224.10 1301.27) scale(1 1.02)" text-anchor="end">0.1</text>
<text transform="translate(224.10 1164.02) scale(1 1.02)" text-anchor="end">0.2</text>
<text transform="translate(224.10 1026.77) scale(1 1.02)" text-anchor="end">0.3</text>
<text transform="translate(224.10 889.52) scale(1 1.02)" text-anchor="end">0.4</text>
<text transform="translate(224.10 752.27) scale(1 1.02)" text-anchor="end">0.5</text>
<text transform="translate(224.10 615.02) scale(1 1.02)" text-anchor="end">0.6</text>
<text transform="translate(224.10 477.77) scale(1 1.02)" text-anchor="end">0.7</text>
<text transform="translate(224.10 340.52) scale(1 1.02)" text-anchor="end">0.8</text>
<text transform="translate(224.10 203.27) scale(1 1.02)" text-anchor="end">0.9</text>
<text transform="translate(224.10 66.02) scale(1 1.02)" text-anchor="end">1.0</text>
<text x="1201.50" y="1630.00" text-anchor="middle">Distance from the lance tip,m</text>
<text transform="translate(70 776) rotate(-90)" text-anchor="middle">VM.m/m<tspan font-size="44" dy="26">0</tspan></text>
<path d="M620.2 694.20L693.7 694.20M714.4 694.20L788.5 694.20" stroke="#000" stroke-width="2.2" stroke-linecap="round" fill="none"/>
<rect x="695.55" y="685.90" width="17.00" height="17.00" fill="#000"/>
<text transform="translate(806.7 719.50) scale(1 1.02)">300K</text>
<path d="M620.2 785.95L693.7 785.95M714.4 785.95L788.5 785.95" stroke="#f00" stroke-width="2.2" stroke-linecap="round" fill="none"/>
<circle cx="704.05" cy="786.15" r="9.80" fill="#f00"/>
<text transform="translate(806.7 811.25) scale(1 1.02)">400K</text>
<path d="M620.2 877.70L693.7 877.70M714.4 877.70L788.5 877.70" stroke="#0f0" stroke-width="2.2" stroke-linecap="round" fill="none"/>
<path d="M704.05 864.57L715.55 884.57L692.55 884.57Z" fill="#00f"/>
<text transform="translate(806.7 903.00) scale(1 1.02)">500K</text>
<path d="M620.2 969.45L693.7 969.45M714.4 969.45L788.5 969.45" stroke="#00f" stroke-width="2.2" stroke-linecap="round" fill="none"/>
<path d="M704.05 982.98L715.55 962.98L692.55 962.98Z" fill="#f0f"/>
<text transform="translate(806.7 994.75) scale(1 1.02)">600K</text>
</g>
</svg>
</body></html>
